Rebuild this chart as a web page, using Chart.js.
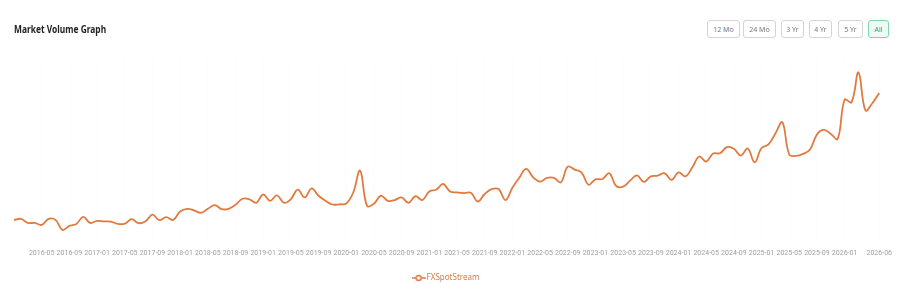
<!DOCTYPE html>
<html>
<head>
<meta charset="utf-8">
<script src="https://cdn.jsdelivr.net/npm/chart.js@4"></script>
<style>
  html, body { margin: 0; padding: 0; background: #fff; }
  .wrap { position: relative; width: 900px; height: 300px; overflow: hidden; }
  .title {
    position: absolute; left: 14px; top: 22px; white-space: nowrap;
    font: bold 10.5px 'Noto Sans', sans-serif; color: #222;
    transform: scaleX(0.8); transform-origin: left center;
  }
  .ranges button {
    position: absolute; top: 20px; height: 18px; padding: 0;
    border: 1px solid #d4d4d4; border-radius: 3px; background: #fff;
    font: 7px 'Noto Sans', sans-serif; color: #777; white-space: nowrap;
  }
  .ranges button.on { border-color: #7fd6ae; background: #eefaf4; color: #2ea36e; }
  #chart-volume { position: absolute; left: 0; top: 0; }
</style>
</head>
<body>
<div class="wrap">
  <canvas id="chart-volume" width="900" height="300"></canvas>
  <div class="title">Market Volume Graph</div>
  <div class="ranges">
    <button style="left:707px;width:33px">12 Mo</button>
    <button style="left:743px;width:33px">24 Mo</button>
    <button style="left:781px;width:23px">3 Yr</button>
    <button style="left:809px;width:23px">4 Yr</button>
    <button style="left:838px;width:25px">5 Yr</button>
    <button class="on" style="left:868px;width:21px">All</button>
  </div>
</div>
<script>
(function () {
  'use strict';

  // months 2016-01 .. 2026-06
  var months = [];
  for (var y = 2016; y <= 2026; y++) {
    for (var m = 1; m <= 12; m++) {
      if (y === 2026 && m > 6) break;
      months.push(y + '-' + (m < 10 ? '0' + m : m));
    }
  }

  var tickLabels = [
    '2016-05', '2016-09', '2017-01', '2017-05', '2017-09', '2018-01', '2018-05', '2018-09',
    '2019-01', '2019-05', '2019-09', '2020-01', '2020-05', '2020-09', '2021-01', '2021-05',
    '2021-09', '2022-01', '2022-05', '2022-09', '2023-01', '2023-05', '2023-09', '2024-01',
    '2024-05', '2024-09', '2025-01', '2025-05', '2025-09', '2026-01', '2026-06'
  ];

  // FXSpotStream volume (relative units)
  var fxSpotStream = [
    21, 22, 18, 18, 16, 22, 21, 11, 15, 17, 24, 18,
    20, 19.5, 19.3, 17, 17.3, 21.7, 17.7, 19.7, 26.3, 20.7, 23.7, 21,
    29.3, 32, 30.5, 28, 32, 35.7, 31.7, 32, 36, 42, 41.5, 38,
    46.3, 40, 45.3, 38, 41.7, 51, 43.3, 52.3, 45, 40, 36.3, 36.5,
    37.3, 48, 70, 35, 37, 45, 40, 40.7, 43.3, 38, 44.5, 40.7,
    49.3, 51, 56.7, 49.3, 48.3, 47.7, 48, 39.3, 46.7, 51.5, 51.7, 40.7,
    53, 63, 71.7, 63.3, 59, 62.7, 62.7, 58.3, 74, 71, 68, 56,
    61.3, 61.7, 67.3, 54.7, 54, 60, 65.3, 58.7, 64.3, 65, 67.3, 60.7,
    68.3, 64.3, 73.3, 84, 79, 87, 87.3, 93.3, 91.7, 85, 92, 78.3,
    92.5, 96, 107, 118, 86, 84.7, 86.7, 91, 106, 110.5, 106.5, 101.5,
    140.5, 138, 167.7, 130, 137, 147.3
  ];

  var orange = '#e07a3f';

  function legendIcon() {
    var c = document.createElement('canvas');
    c.width = 14;
    c.height = 8;
    var ctx = c.getContext('2d');
    ctx.strokeStyle = orange;
    ctx.lineWidth = 1.5;
    ctx.beginPath();
    ctx.moveTo(0, 4);
    ctx.lineTo(14, 4);
    ctx.stroke();
    ctx.fillStyle = '#fff';
    ctx.beginPath();
    ctx.arc(7, 4, 2.5, 0, Math.PI * 2);
    ctx.fill();
    ctx.stroke();
    return c;
  }

  var icon = legendIcon();

  new Chart(document.getElementById('chart-volume'), {
    type: 'line',
    data: {
      labels: months,
      datasets: [
        {
          label: 'FXSpotStream',
          data: fxSpotStream,
          borderColor: orange,
          backgroundColor: orange,
          borderWidth: 1.8,
          tension: 0.4,
          pointRadius: 0,
          fill: false,
        },
      ],
    },
    options: {
      responsive: false,
      animation: false,
      layout: { padding: { top: 60, left: 14, right: 20, bottom: 8 } },
      plugins: {
        tooltip: { enabled: false },
        legend: {
          position: 'bottom',
          labels: {
            usePointStyle: true,
            color: orange,
            padding: 10,
            font: { family: 'Noto Sans, sans-serif', size: 8 },
            generateLabels: function (chart) {
              var items = Chart.defaults.plugins.legend.labels.generateLabels(chart);
              items.forEach(function (it) {
                it.pointStyle = icon;
                it.fontColor = orange;
              });
              return items;
            },
          },
        },
      },
      scales: {
        x: {
          grid: { color: 'rgba(0, 0, 0, 0.012)', drawTicks: false },
          border: { display: false },
          afterFit: function (scale) { scale.height = 23; },
          ticks: {
            autoSkip: false,
            maxRotation: 0,
            padding: 8,
            color: '#a0a0a0',
            font: { family: 'Roboto, sans-serif', size: 7 },
            callback: function (val, i) {
              var lab = months[i];
              return tickLabels.indexOf(lab) >= 0 ? lab : null;
            },
          },
        },
        y: {
          display: false,
          min: 0,
          max: 180,
        },
      },
    },
  });
})();
</script>
</body>
</html>
